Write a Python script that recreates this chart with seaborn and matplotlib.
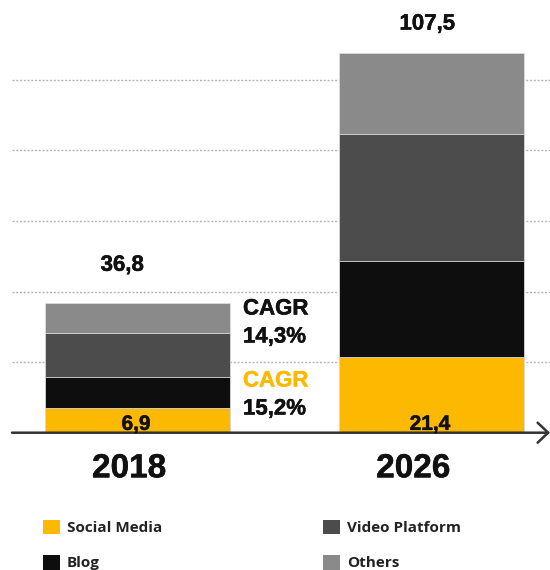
import numpy as np
import pandas as pd
import matplotlib
matplotlib.use("Agg")
import matplotlib.pyplot as plt
import matplotlib.patheffects as pe
import seaborn as sns
from matplotlib.patches import Patch

# ---- data -------------------------------------------------------------
years = ["2018", "2026"]
categories = ["Social Media", "Blog", "Video Platform", "Others"]
social_media = [6.9, 21.4]
blog = [9.0, 27.3]
video_platform = [12.3, 35.9]
others = [8.6, 22.9]
totals = [36.8, 107.5]

colors = {
    "Social Media": "#FDB900",
    "Blog": "#0E0E0E",
    "Video Platform": "#4C4C4C",
    "Others": "#8A8A8A",
}

df = pd.DataFrame({
    "year": np.repeat(years, len(categories)),
    "category": categories * len(years),
    "value": np.ravel(np.column_stack([social_media, blog, video_platform, others])),
})
df["cum"] = df.groupby("year")["value"].cumsum()

sns.set_theme(style="white")
plt.rcParams["font.family"] = ["Liberation Sans", "DejaVu Sans"]

# slightly heavier strokes for the bold labels
heavy = [pe.withStroke(linewidth=0.35, foreground="#111111")]

fig = plt.figure(figsize=(5.5, 5.7), dpi=100)
# axes spans from the top of the figure down to the baseline
ax = fig.add_axes([12 / 550, 1 - 432.7 / 570, 1 - 12 / 550, 432.7 / 570])

# stacked bars: draw cumulative layers from the top segment downward
for cat in reversed(categories):
    sub = df[df["category"] == cat]
    sns.barplot(data=sub, x="year", y="cum", order=years, color=colors[cat],
                width=0.63, saturation=1, edgecolor="#dcdcdc", linewidth=0.6,
                ax=ax, zorder=3)

px_per_unit = 70.6 / 20
ax.set_ylim(0, 432.7 / px_per_unit)
ax.set_xlim((12 - 137.5) / 294, (550 - 137.5) / 294)

for v in [20, 40, 60, 80, 100]:
    ax.axhline(v, color="#b5b5b5", lw=1.0, ls=(0, (1.5, 1.2)), zorder=1)

for s in ax.spines.values():
    s.set_visible(False)
ax.set_xticks([])
ax.set_yticks([])
ax.set_xlabel("")
ax.set_ylabel("")

# baseline with an open arrow head
ax.annotate("", xy=(1.0, 0), xytext=(0, 0), xycoords="axes fraction",
            textcoords="axes fraction",
            arrowprops=dict(arrowstyle="->, head_length=0.38, head_width=0.36",
                            color="#333333", lw=1.8, mutation_scale=20,
                            shrinkA=0, shrinkB=0),
            zorder=5, annotation_clip=False)

# total labels above bars
total_offsets = [(-11, 27), (-3, 21)]
for i, (t, off) in enumerate(zip(totals, total_offsets)):
    ax.annotate(f"{t:.1f}".replace(".", ","), xy=(i, t), xytext=off,
                textcoords="offset points", ha="center", va="center",
                fontsize=16, fontweight="bold", color="#111111",
                annotation_clip=False, path_effects=heavy)

# social media values at the base of each bar
for i, v in enumerate(social_media):
    ax.annotate(f"{v:.1f}".replace(".", ","), xy=(i, 0), xytext=(-1, 6),
                textcoords="offset points", ha="center", va="center",
                fontsize=15, fontweight="bold", color="#111111", zorder=6,
                path_effects=heavy)

# year labels below the baseline
year_offsets = [-6, -13]
for i, (y, dx) in enumerate(zip(years, year_offsets)):
    ax.annotate(y, xy=(i, 0), xytext=(dx, -26), textcoords="offset points",
                ha="center", va="center", fontsize=24, fontweight="bold",
                color="#111111", annotation_clip=False, path_effects=heavy)

# growth rates beside the 2018 bar
cagr_lines = [("CAGR", 309, "#111111"), ("14,3%", 337, "#111111"),
              ("CAGR", 381, colors["Social Media"]), ("15,2%", 409, "#111111")]
for txt, ypx, col in cagr_lines:
    ax.text(243, 570 - ypx, txt, transform=None, fontsize=16,
            fontweight="bold", color=col, va="center", ha="left",
            path_effects=[pe.withStroke(linewidth=0.35, foreground=col)])

# legend: two columns of square swatches
handles = [Patch(facecolor=colors[c], edgecolor="none", label=c) for c in categories]
legend_kw = dict(loc="center left", frameon=False,
                 prop={"family": ["Open Sans", "DejaVu Sans"], "weight": "bold", "size": 11},
                 handlelength=1.1, handleheight=1.1, handletextpad=0.45,
                 labelspacing=1.3, borderpad=0, borderaxespad=0)
leg1 = fig.legend(handles=handles[:2], bbox_to_anchor=(43 / 550, 1 - 545 / 570), **legend_kw)
leg2 = fig.legend(handles=handles[2:], bbox_to_anchor=(323 / 550, 1 - 545 / 570), **legend_kw)
for leg in (leg1, leg2):
    for t in leg.get_texts():
        t.set_color("#222222")

fig.savefig("out.png", dpi=100)
